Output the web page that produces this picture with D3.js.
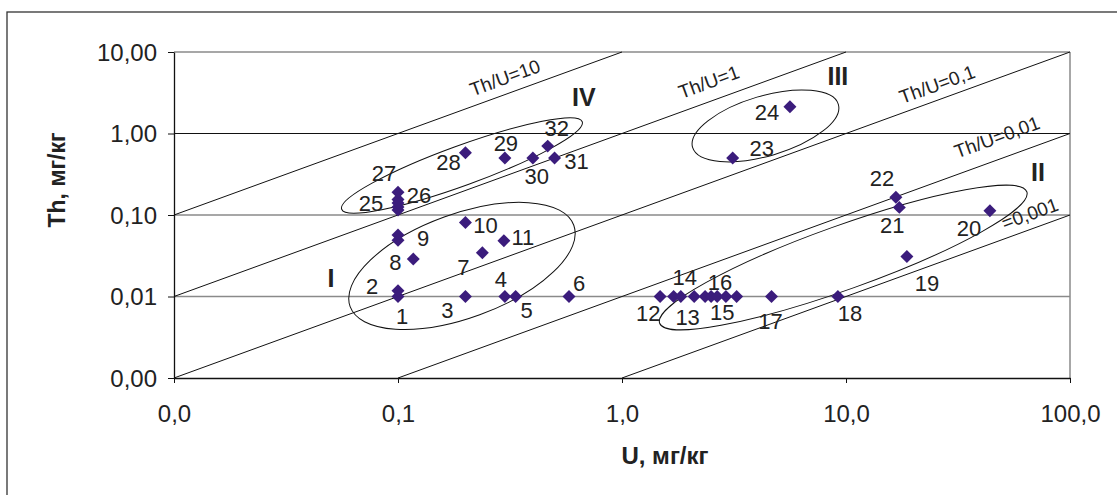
<!DOCTYPE html>
<html>
<head>
<meta charset="utf-8">
<script src="https://cdn.jsdelivr.net/npm/d3@7"></script>
<style>
  body { margin: 0; background: #fff; }
  svg { display: block; font-family: "Liberation Sans", Arial, sans-serif; }
</style>
</head>
<body>
<svg width="1117" height="495"></svg>
<script>
// samples: U and Th, mg/kg ('' = unlabelled point)
var pointLabels = ['1','2','3','4','5','6','7','8','9','','10','11',
    '12','13','14','','','','15','16','','17','18','19','20','21','22',
    '23','24',
    '25','','','26','27','28','29','30','31','32'];
var uValues = [0.1, 0.1, 0.2, 0.3, 0.335, 0.58, 0.238, 0.117, 0.1, 0.1, 0.2, 0.297,
    1.48, 1.7, 1.83, 2.1, 2.35, 2.5, 2.66, 2.91, 3.25, 4.65, 9.2, 18.7, 43.9, 17.3, 16.7,
    3.12, 5.62,
    0.1, 0.1, 0.1, 0.1, 0.1, 0.2, 0.3, 0.4, 0.5, 0.466];
var thValues = [0.01, 0.0118, 0.01, 0.01, 0.01, 0.01, 0.0344, 0.0288, 0.057, 0.049, 0.081, 0.0484,
    0.01, 0.01, 0.01, 0.01, 0.01, 0.01, 0.01, 0.01, 0.01, 0.01, 0.01, 0.031, 0.113, 0.124, 0.165,
    0.5, 2.13,
    0.115, 0.125, 0.14, 0.155, 0.19, 0.58, 0.5, 0.5, 0.5, 0.70];

// Th/U reference lines
var ratios = [10, 1, 0.1, 0.01, 0.001];
var ratioNames = ['Th/U=10', 'Th/U=1', 'Th/U=0,1', 'Th/U=0,01', '=0,001'];
var ratioLabelU = [0.30, 2.44, 25.5, 47.2, 66.2];

// groups of samples (ellipse centres, in mg/kg)
var groupNames = ['I', 'II', 'III', 'IV'];
var groupCenterU = [0.193, 9.72, 4.37, 0.193];
var groupCenterTh = [0.0237, 0.0301, 1.24, 0.405];
var groupLabelU = [0.0502, 72, 9.2, 0.676];
var groupLabelTh = [0.0169, 0.337, 5.08, 2.81];

// tick labels
var xTicks = [0.01, 0.1, 1, 10, 100];
var xTickLabels = ['0,0', '0,1', '1,0', '10,0', '100,0'];
var yTicks = [0.001, 0.01, 0.1, 1, 10];
var yTickLabels = ['0,00', '0,01', '0,10', '1,00', '10,00'];

// layout only
var labelOffsets = {
    '1':[4,20], '2':[-26,-5], '3':[-18,14], '4':[-4,-17], '5':[11,14], '6':[10,-13],
    '7':[-19,14], '8':[-18,3], '9':[25,3], '10':[20,3], '11':[19,-4], '12':[-12,17],
    '13':[14,21], '14':[4,-19], '15':[5,16], '16':[-6,-14], '17':[-1,25], '18':[12,17],
    '19':[20,27], '20':[-21,17], '21':[-7,18], '22':[-14,-19], '23':[29,-10], '24':[-23,5],
    '25':[-27,-7], '26':[21,-4], '27':[-14,-19], '28':[-17,9], '29':[1,-15], '30':[4,18],
    '31':[22,3], '32':[9,-18]
};
var ratioLabelLift = [17, 20, 16, 23, 16];
var ellipseRx = [119, 195, 76, 128];
var ellipseRy = [52, 32, 30, 20];
var ellipseTilt = [20, 19.7, 16.5, 20];

var svg = d3.select('svg');
var plot = { l: 174, r: 1070, t: 52, b: 378 };

var x = d3.scaleLog().domain([0.01, 100]).range([plot.l, plot.r]);
var y = d3.scaleLog().domain([0.001, 10]).range([plot.b, plot.t]);

// outer frame (runs off the right and bottom edges)
svg.append('rect')
    .attr('x', 7).attr('y', 12)
    .attr('width', 1200).attr('height', 600)
    .attr('fill', 'none').attr('stroke', '#333').attr('stroke-width', 1.3);

// horizontal grid
svg.append('g').selectAll('line')
    .data(yTicks.filter(d => d > 0.001))
    .enter().append('line')
    .attr('x1', plot.l).attr('x2', plot.r)
    .attr('y1', d => y(d)).attr('y2', d => y(d))
    .attr('stroke', d => d === 1 ? '#111' : '#8a8a8a')
    .attr('stroke-width', d => d === 1 ? 1.2 : 1.5);

// right border of plot area
svg.append('line')
    .attr('x1', plot.r).attr('x2', plot.r)
    .attr('y1', plot.t).attr('y2', plot.b)
    .attr('stroke', '#8a8a8a').attr('stroke-width', 1.5);

// ratio lines
var tilt = Math.atan2(y(1) - y(10), x(10) - x(1)) * 180 / Math.PI;
var ratioG = svg.append('g');
ratios.forEach(function(r, i) {
    var u0 = Math.max(0.01, 0.001 / r);
    var u1 = Math.min(100, 10 / r);
    ratioG.append('line')
        .attr('x1', x(u0)).attr('y1', y(r * u0))
        .attr('x2', x(u1)).attr('y2', y(r * u1))
        .attr('stroke', '#111').attr('stroke-width', 1);
    var lu = ratioLabelU[i];
    ratioG.append('text')
        .attr('transform', 'translate(' + [x(lu), y(r * lu) - ratioLabelLift[i]] + ')rotate(' + (-tilt) + ')')
        .attr('text-anchor', 'middle')
        .attr('dy', '0.35em')
        .style('font-size', '19px')
        .style('fill', '#222')
        .text(ratioNames[i]);
});

// group ellipses
var groupG = svg.append('g');
groupNames.forEach(function(name, i) {
    groupG.append('ellipse')
        .attr('transform', 'translate(' + [x(groupCenterU[i]), y(groupCenterTh[i])] + ')rotate(' + (-ellipseTilt[i]) + ')')
        .attr('rx', ellipseRx[i]).attr('ry', ellipseRy[i])
        .attr('fill', 'none').attr('stroke', '#111').attr('stroke-width', 1);
    groupG.append('text')
        .attr('x', x(groupLabelU[i])).attr('y', y(groupLabelTh[i]))
        .attr('text-anchor', 'middle')
        .attr('dy', '0.36em')
        .style('font-size', '25px')
        .style('font-weight', 'bold')
        .style('fill', '#222')
        .text(name);
});

// axes
var yAxis = svg.append('g')
    .attr('transform', 'translate(' + plot.l + ',0)')
    .call(d3.axisLeft(y).tickValues(yTicks)
        .tickFormat((d, i) => yTickLabels[i]).tickSize(6).tickSizeOuter(0));
yAxis.select('.domain').attr('stroke', '#111').attr('stroke-width', 1.3);
yAxis.selectAll('line').attr('stroke', '#111');
yAxis.selectAll('text')
    .attr('x', -17).attr('dy', '0.34em')
    .style('font-size', '24px').style('fill', '#222')
    .style('font-family', '"Liberation Sans", Arial, sans-serif');

var xAxis = svg.append('g')
    .attr('transform', 'translate(0,' + plot.b + ')')
    .call(d3.axisBottom(x).tickValues(xTicks)
        .tickFormat((d, i) => xTickLabels[i]).tickSize(5).tickSizeOuter(0));
xAxis.select('.domain').attr('stroke', '#111').attr('stroke-width', 1.3);
xAxis.selectAll('line').attr('stroke', '#111');
xAxis.selectAll('text')
    .attr('y', 44).attr('dy', '0')
    .style('font-size', '24px').style('fill', '#222')
    .style('font-family', '"Liberation Sans", Arial, sans-serif');

// points
var points = uValues.map(function(u, i) {
    return { u: u, th: thValues[i], label: pointLabels[i] };
});
var diamond = d3.symbol().type(d3.symbolSquare).size(84);

svg.append('g').selectAll('path')
    .data(points)
    .enter().append('path')
    .attr('d', diamond)
    .attr('transform', d => 'translate(' + [x(d.u), y(d.th)] + ')rotate(45)')
    .attr('fill', '#3b1c7c');

svg.append('g').selectAll('text')
    .data(points.filter(d => d.label !== ''))
    .enter().append('text')
    .attr('x', d => x(d.u) + labelOffsets[d.label][0])
    .attr('y', d => y(d.th) + labelOffsets[d.label][1])
    .attr('text-anchor', 'middle')
    .attr('dy', '0.36em')
    .style('font-size', '22px')
    .style('fill', '#222')
    .text(d => d.label);

// axis titles
svg.append('text')
    .attr('transform', 'translate(57,180)rotate(-90)')
    .attr('text-anchor', 'middle')
    .attr('dy', '0.36em')
    .style('font-size', '23px')
    .style('font-weight', 'bold')
    .style('fill', '#222')
    .text('Th, мг/кг');

svg.append('text')
    .attr('x', 665).attr('y', 455)
    .attr('text-anchor', 'middle')
    .attr('dy', '0.36em')
    .style('font-size', '24px')
    .style('font-weight', 'bold')
    .style('fill', '#222')
    .text('U, мг/кг');
</script>
</body>
</html>
